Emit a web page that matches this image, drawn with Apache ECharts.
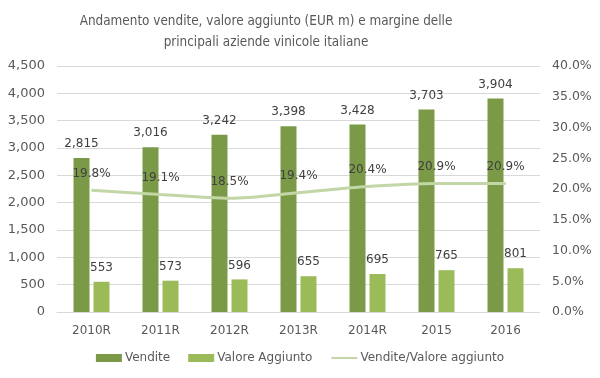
<!DOCTYPE html>
<html><head><meta charset="utf-8">
<script src="https://cdn.jsdelivr.net/npm/echarts@6/dist/echarts.min.js"></script>
<style>html,body{margin:0;padding:0;background:#fff}#c{width:600px;height:378px}</style>
</head><body><div id="c"></div>
<script>
const categories = ['2010R','2011R','2012R','2013R','2014R','2015','2016'];
const vendite = [2815, 3016, 3242, 3398, 3428, 3703, 3904];
const valoreAggiunto = [553, 573, 596, 655, 695, 765, 801];
const margine = [0.198, 0.191, 0.185, 0.194, 0.204, 0.209, 0.209];
const seriesNames = ['Vendite', 'Valore Aggiunto', 'Vendite/Valore aggiunto'];
const titleText = 'Andamento vendite, valore aggiunto (EUR m) e margine delle\nprincipali aziende vinicole italiane';

const numFont = 'DejaVu Sans';
const txt = '#595959';
const chart = echarts.init(document.getElementById('c'));
chart.setOption({
  animation: false,
  title: {
    text: titleText, left: 261, top: 6, textAlign: 'center',
    textStyle: { fontFamily: '"DejaVu Sans Condensed", "Liberation Sans Narrow", sans-serif', fontSize: 13.4, fontWeight: 'normal', color: txt, lineHeight: 21 }
  },
  legend: {
    bottom: 9, left: 'center', itemGap: 18, itemWidth: 26, itemHeight: 8,
    textStyle: { fontFamily: numFont, fontSize: 12, color: txt, padding: [0, 0, 0, -2] },
    data: [
      { name: seriesNames[0], icon: 'rect' },
      { name: seriesNames[1], icon: 'rect' },
      { name: seriesNames[2], itemStyle: { opacity: 0 } }
    ]
  },
  grid: { left: 57, right: 60, top: 66, bottom: 66 },
  xAxis: {
    type: 'category', data: categories,
    axisLine: { lineStyle: { color: '#d9d9d9' } },
    axisTick: { show: false },
    axisLabel: { fontFamily: numFont, fontSize: 12, color: txt, margin: 13 }
  },
  yAxis: [
    { type: 'value', min: 0, max: 4500, interval: 500,
      axisLine: { show: false }, axisTick: { show: false },
      splitLine: { lineStyle: { color: '#d9d9d9' } },
      axisLabel: { fontFamily: numFont, fontSize: 13, color: txt, margin: 12,
        formatter: v => v.toLocaleString('en-US') } },
    { type: 'value', min: 0, max: 0.4, interval: 0.05,
      axisLine: { show: false }, axisTick: { show: false }, splitLine: { show: false },
      axisLabel: { fontFamily: numFont, fontSize: 12.5, color: txt, margin: 12,
        formatter: v => (v * 100).toFixed(1) + '%' } }
  ],
  series: [
    { name: seriesNames[0], type: 'bar', data: vendite, barWidth: 16, barGap: '25%',
      itemStyle: { color: '#7a9a48' },
      label: { show: true, position: 'top', distance: 8, fontFamily: numFont, fontSize: 12, color: '#404040',
        formatter: p => p.value.toLocaleString('en-US') } },
    { name: seriesNames[1], type: 'bar', data: valoreAggiunto, barWidth: 16,
      itemStyle: { color: '#9bbb59' },
      label: { show: true, position: 'top', distance: 8, fontFamily: numFont, fontSize: 12, color: '#404040' } },
    { name: seriesNames[2], type: 'line', yAxisIndex: 1, data: margine, smooth: 0.3,
      symbol: 'circle', symbolSize: 1, showSymbol: true,
      lineStyle: { color: '#c3d6a6', width: 3 }, itemStyle: { color: '#c3d6a6' },
      label: { show: true, position: 'top', distance: 10, fontFamily: numFont, fontSize: 12, color: '#404040',
        formatter: p => (p.value * 100).toFixed(1) + '%' } }
  ]
});
</script></body></html>
